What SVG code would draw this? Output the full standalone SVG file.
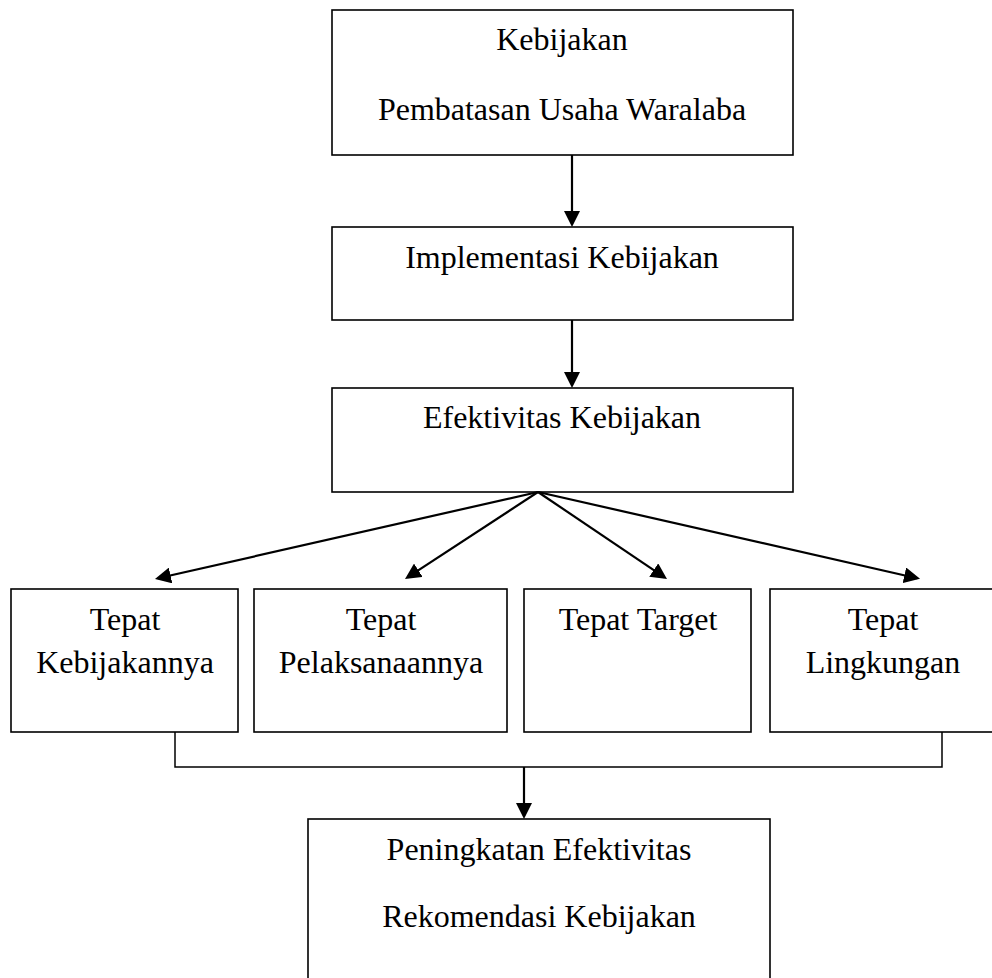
<svg xmlns="http://www.w3.org/2000/svg" width="992" height="978" viewBox="0 0 992 978">
<style>
.box{fill:#fff;stroke:#000;stroke-width:1.6}
.t{font-family:"Liberation Serif","Times New Roman",serif;font-size:32px;fill:#000;text-anchor:middle}
.arr{stroke:#000;stroke-width:2.2;fill:none;marker-end:url(#ah)}
.br{stroke:#000;stroke-width:1.5;fill:none}
</style>
<defs>
<marker id="ah" viewBox="0 0 16 16" refX="13" refY="8" markerWidth="16" markerHeight="16" markerUnits="userSpaceOnUse" orient="auto">
<path d="M0,0 L16,8 L0,16 z" fill="#000"/>
</marker>
</defs>
<g id="kebijakan">
<rect class="box" x="332" y="10" width="461" height="145"/>
<text class="t" x="562" y="50">Kebijakan</text>
<text class="t" x="562" y="120">Pembatasan Usaha Waralaba</text>
</g>
<g id="implementasi">
<rect class="box" x="332" y="227" width="461" height="93"/>
<text class="t" x="562" y="268">Implementasi Kebijakan</text>
</g>
<g id="efektivitas">
<rect class="box" x="332" y="388" width="461" height="104"/>
<text class="t" x="562" y="428">Efektivitas Kebijakan</text>
</g>
<g id="tepat-kebijakan">
<rect class="box" x="11" y="589" width="227" height="143"/>
<text class="t" x="125" y="630">Tepat</text>
<text class="t" x="125" y="673">Kebijakannya</text>
</g>
<g id="tepat-pelaksanaan">
<rect class="box" x="254" y="589" width="253" height="143"/>
<text class="t" x="381" y="630">Tepat</text>
<text class="t" x="381" y="673">Pelaksanaannya</text>
</g>
<g id="tepat-target">
<rect class="box" x="524" y="589" width="227" height="143"/>
<text class="t" x="638" y="630">Tepat Target</text>
</g>
<g id="tepat-lingkungan">
<rect class="box" x="770" y="589" width="227" height="143"/>
<text class="t" x="883" y="630">Tepat</text>
<text class="t" x="883" y="673">Lingkungan</text>
</g>
<g id="peningkatan">
<rect class="box" x="308" y="819" width="462" height="170"/>
<text class="t" x="539" y="860">Peningkatan Efektivitas</text>
<text class="t" x="539" y="927">Rekomendasi Kebijakan</text>
</g>
<g id="connectors">
<line class="arr" x1="572" y1="155" x2="572" y2="224"/>
<line class="arr" x1="572" y1="320" x2="572" y2="385"/>
<line class="arr" x1="538" y1="492" x2="157.9" y2="578.3"/>
<line class="arr" x1="538" y1="492" x2="407.5" y2="577.4"/>
<line class="arr" x1="538" y1="492" x2="664.5" y2="577.3"/>
<line class="arr" x1="538" y1="492" x2="917.1" y2="578.2"/>
<polyline class="br" points="175,732 175,767 942,767 942,732"/>
<line class="arr" x1="524" y1="767" x2="524" y2="816"/>
</g>
</svg>
